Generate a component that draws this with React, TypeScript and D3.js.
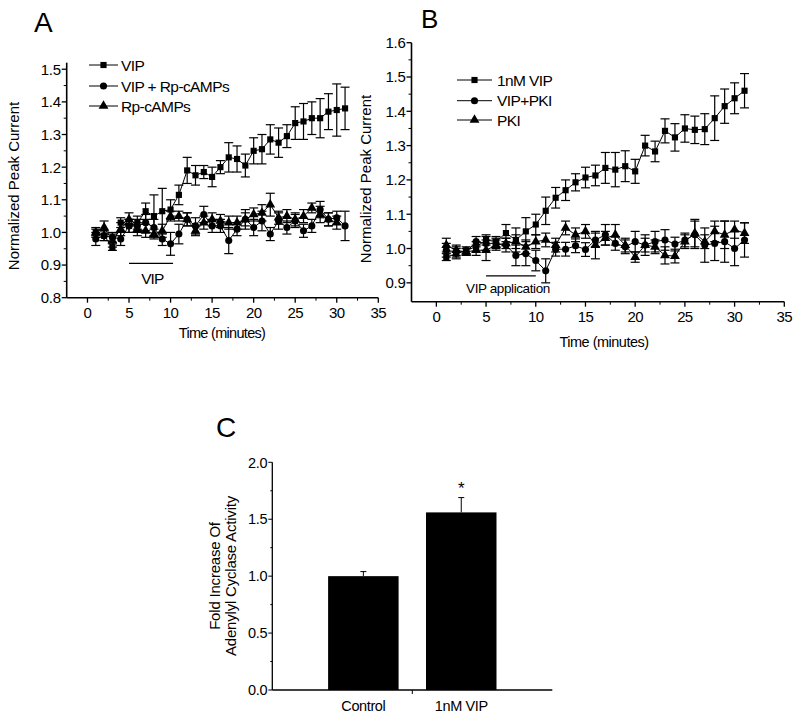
import React from "react";
import * as d3 from "d3";

// ---------- DATA ----------
const minutes = [1,2,3,4,5,6,7,8,9,10,11,12,13,14,15,16,17,18,19,20,21,22,23,24,25,26,27,28,29,30,31];

// Panel A
const vipA = [1.00,0.99,0.955,1.03,1.02,1.03,1.065,1.05,1.065,1.07,1.115,1.19,1.175,1.185,1.17,1.20,1.23,1.225,1.205,1.25,1.255,1.285,1.275,1.295,1.335,1.34,1.35,1.35,1.37,1.375,1.38];
const vipAErr = [0.015,0.015,0.01,0.015,0.02,0.02,0.025,0.065,0.07,0.03,0.03,0.04,0.03,0.02,0.03,0.02,0.045,0.04,0.035,0.04,0.045,0.045,0.045,0.035,0.05,0.055,0.05,0.06,0.055,0.08,0.065];
const vipRpA = [0.98,0.99,0.985,0.98,1.02,1.02,1.03,1.015,0.98,0.965,0.995,1.04,1.02,1.055,1.02,1.02,0.975,1.01,1.04,1.015,1.035,0.995,1.035,1.015,1.035,1.005,1.02,1.07,1.04,1.045,1.02];
const vipRpAErr = [0.02,0.015,0.015,0.02,0.02,0.02,0.025,0.025,0.02,0.035,0.03,0.02,0.025,0.025,0.02,0.02,0.04,0.02,0.03,0.025,0.03,0.02,0.025,0.02,0.02,0.02,0.02,0.025,0.02,0.02,0.045];
const rpA = [1.00,1.015,0.975,1.01,1.04,1.01,1.005,0.995,1.005,1.05,1.05,1.04,1.005,1.03,1.04,1.035,1.03,1.03,1.04,1.055,1.06,1.085,1.045,1.05,1.04,1.05,1.075,1.055,1.04,1.03];
const rpAErr = [0.01,0.02,0.02,0.02,0.02,0.02,0.02,0.015,0.02,0.015,0.015,0.02,0.015,0.02,0.02,0.02,0.02,0.02,0.02,0.02,0.025,0.035,0.02,0.02,0.02,0.02,0.015,0.025,0.02,0.02];
const legendA = ["VIP", "VIP + Rp-cAMPs", "Rp-cAMPs"];

// Panel B
const vipB = [0.975,0.985,0.995,1.005,1.025,1.02,1.045,1.025,1.05,1.07,1.11,1.148,1.17,1.193,1.207,1.213,1.235,1.23,1.24,1.225,1.30,1.283,1.343,1.324,1.35,1.346,1.348,1.38,1.415,1.438,1.46];
const vipBErr = [0.01,0.015,0.01,0.015,0.015,0.015,0.025,0.035,0.04,0.03,0.04,0.03,0.03,0.025,0.03,0.03,0.045,0.05,0.045,0.035,0.03,0.03,0.035,0.04,0.04,0.04,0.045,0.065,0.05,0.045,0.05];
const vipPkiB = [0.995,0.99,0.99,1.02,1.015,1.015,1.01,0.98,0.985,0.965,0.935,0.998,0.998,1.008,0.997,1.025,1.04,1.015,1.005,1.02,1.01,1.02,1.025,1.013,1.025,1.04,1.01,1.015,1.02,1.00,1.025];
const vipPkiBErr = [0.02,0.015,0.01,0.015,0.02,0.015,0.02,0.03,0.035,0.03,0.035,0.02,0.02,0.02,0.02,0.02,0.03,0.02,0.02,0.03,0.03,0.03,0.03,0.02,0.02,0.04,0.05,0.05,0.06,0.05,0.05];
const pkiB = [1.01,0.995,0.99,0.995,0.995,1.01,1.015,1.02,1.005,1.02,1.025,1.01,1.06,1.04,1.05,1.01,1.03,1.04,1.01,0.975,1.01,1.005,0.98,0.978,1.02,1.045,1.02,1.05,1.04,1.055,1.045];
const pkiBErr = [0.02,0.015,0.01,0.015,0.03,0.015,0.015,0.02,0.02,0.02,0.02,0.02,0.02,0.02,0.02,0.04,0.02,0.03,0.02,0.015,0.02,0.02,0.025,0.02,0.02,0.04,0.02,0.03,0.04,0.025,0.03];
const legendB = ["1nM VIP", "VIP+PKI", "PKI"];

// Panel C
const categoriesC = ["Control", "1nM VIP"];
const valuesC = [1.0, 1.56];
const errC = [0.04, 0.13];

// Ticks
const xTicks = [0,5,10,15,20,25,30,35];
const xMinor = [2.5,7.5,12.5,17.5,22.5,27.5,32.5];
const yTicksA = [0.8,0.9,1.0,1.1,1.2,1.3,1.4,1.5];
const yMinorA = [0.85,0.95,1.05,1.15,1.25,1.35,1.45];
const yTicksB = [0.9,1.0,1.1,1.2,1.3,1.4,1.5,1.6];
const yMinorB = [0.95,1.05,1.15,1.25,1.35,1.45,1.55];
const yTicksC = [0.0,0.5,1.0,1.5,2.0];
const yMinorC = [0.25,0.75,1.25,1.75];

// ---------- HELPERS ----------
const FONT = "'Liberation Sans', Arial, Helvetica, sans-serif";
const fmt1 = d3.format(".1f");

type Series = { vals: number[]; errs: number[]; shape: d3.SymbolType; size: number };

function XYPanel(props: {
  x: d3.ScaleLinear<number, number>;
  y: d3.ScaleLinear<number, number>;
  yTicks: number[];
  yMinor: number[];
  series: Series[];
  tickLabelDy: number;
}) {
  const { x, y, yTicks, yMinor, series, tickLabelDy } = props;
  const [x0, x1] = x.range();
  const [yb, yt] = y.range();
  const line = d3.line<number>().x((_, i) => x(minutes[i])).y((v) => y(v));
  return (
    <g>
      <line x1={x0} x2={x0} y1={yb} y2={yt} stroke="#000" strokeWidth={1.6} />
      <line x1={x0} x2={x1} y1={yb} y2={yb} stroke="#000" strokeWidth={1.6} />
      {yTicks.map((t) => (
        <g key={"yt" + t}>
          <line x1={x0 - 5} x2={x0} y1={y(t)} y2={y(t)} stroke="#000" strokeWidth={1.3} />
          <text x={x0 - 6} y={y(t)} dy="0.36em" textAnchor="end" fontSize={15} fontFamily={FONT} letterSpacing={-0.3}>{fmt1(t)}</text>
        </g>
      ))}
      {yMinor.map((t) => (
        <line key={"ym" + t} x1={x0 - 3} x2={x0} y1={y(t)} y2={y(t)} stroke="#000" strokeWidth={1} />
      ))}
      {xTicks.map((t) => (
        <g key={"xt" + t}>
          <line x1={x(t)} x2={x(t)} y1={yb} y2={yb + 5} stroke="#000" strokeWidth={1.3} />
          <text x={x(t)} y={yb + tickLabelDy} textAnchor="middle" fontSize={15} fontFamily={FONT} letterSpacing={-0.6}>{t}</text>
        </g>
      ))}
      {xMinor.map((t) => (
        <line key={"xm" + t} x1={x(t)} x2={x(t)} y1={yb} y2={yb + 3} stroke="#000" strokeWidth={1} />
      ))}
      {series.map((s, si) => (
        <g key={"s" + si}>
          <path d={line(s.vals) || ""} fill="none" stroke="#000" strokeWidth={1} />
          {s.vals.map((v, i) => {
            const cx = x(minutes[i]);
            const top = y(v + s.errs[i]);
            const bot = y(v - s.errs[i]);
            return (
              <g key={i}>
                <line x1={cx} x2={cx} y1={top} y2={bot} stroke="#000" strokeWidth={1.2} />
                <line x1={cx - 4.5} x2={cx + 4.5} y1={top} y2={top} stroke="#000" strokeWidth={1.2} />
                <line x1={cx - 4.5} x2={cx + 4.5} y1={bot} y2={bot} stroke="#000" strokeWidth={1.2} />
                <path transform={`translate(${cx},${y(v)})`} d={d3.symbol().type(s.shape).size(s.size)() || ""} fill="#000" />
              </g>
            );
          })}
        </g>
      ))}
    </g>
  );
}

function Legend(props: { labels: string[]; shapes: d3.SymbolType[]; sizes: number[]; lx0: number; lx1: number; tx: number; ys: number[] }) {
  const { labels, shapes, sizes, lx0, lx1, tx, ys } = props;
  return (
    <g>
      {labels.map((lab, i) => (
        <g key={lab}>
          <line x1={lx0} x2={lx1} y1={ys[i]} y2={ys[i]} stroke="#000" strokeWidth={1} />
          <path transform={`translate(${(lx0 + lx1) / 2},${ys[i]})`} d={d3.symbol().type(shapes[i]).size(sizes[i])() || ""} fill="#000" />
          <text x={tx} y={ys[i]} dy="0.36em" fontSize={15.5} fontFamily={FONT} letterSpacing={-0.6}>{lab}</text>
        </g>
      ))}
    </g>
  );
}

export default function App() {
  const shapes = [d3.symbolSquare, d3.symbolCircle, d3.symbolTriangle];
  const sizes = [38, 40, 42];

  const xA = d3.scaleLinear().domain([-2.5, 35]).range([66.7, 378.3]);
  const yA = d3.scaleLinear().domain([0.8, 1.52]).range([297.7, 62.7]);
  const xB = d3.scaleLinear().domain([-2.5, 35]).range([411.5, 784.3]);
  const yB = d3.scaleLinear().domain([0.845, 1.6]).range([301.7, 42.7]);
  const xC = d3.scaleBand<string>().domain(categoriesC).range([272.3, 552.3]).paddingInner(0.28).paddingOuter(0.57);
  const yC = d3.scaleLinear().domain([0, 2]).range([690, 462.3]);

  const seriesA: Series[] = [
    { vals: vipA, errs: vipAErr, shape: shapes[0], size: sizes[0] },
    { vals: vipRpA, errs: vipRpAErr, shape: shapes[1], size: sizes[1] },
    { vals: rpA, errs: rpAErr, shape: shapes[2], size: sizes[2] },
  ];
  const seriesB: Series[] = [
    { vals: vipB, errs: vipBErr, shape: shapes[0], size: sizes[0] },
    { vals: vipPkiB, errs: vipPkiBErr, shape: shapes[1], size: sizes[1] },
    { vals: pkiB, errs: pkiBErr, shape: shapes[2], size: sizes[2] },
  ];

  const cX0 = 272.3, cX1 = 552.3;
  const cYb = yC(0);

  return (
    <svg width={798} height={718} style={{ position: "absolute", left: 0, top: 0, background: "#fff" }}>
      <rect x={0} y={0} width={798} height={718} fill="#fff" />

      <text x={34} y={32} fontSize={28} fontFamily={FONT} fontWeight={300}>A</text>
      <text x={421} y={28} fontSize={26} fontFamily={FONT} fontWeight={300}>B</text>
      <text x={216} y={437} fontSize={28} fontFamily={FONT} fontWeight={300}>C</text>

      {/* Panel A */}
      <XYPanel x={xA} y={yA} yTicks={yTicksA} yMinor={yMinorA} series={seriesA} tickLabelDy={20} />
      <Legend labels={legendA} shapes={shapes} sizes={sizes} lx0={89} lx1={118} tx={121} ys={[65, 86, 106]} />
      <line x1={xA(5)} x2={xA(10.3)} y1={yA(0.905)} y2={yA(0.905)} stroke="#000" strokeWidth={1.2} />
      <text x={xA(7.8)} y={284} textAnchor="middle" fontSize={15.5} fontFamily={FONT} letterSpacing={-0.9}>VIP</text>
      <text transform="translate(19,186) rotate(-90)" textAnchor="middle" fontSize={15} fontFamily={FONT}>Normalized Peak Current</text>
      <text x={222} y={338} textAnchor="middle" fontSize={14.5} fontFamily={FONT} letterSpacing={-0.7}>Time (minutes)</text>

      {/* Panel B */}
      <XYPanel x={xB} y={yB} yTicks={yTicksB} yMinor={yMinorB} series={seriesB} tickLabelDy={20} />
      <Legend labels={legendB} shapes={shapes} sizes={sizes} lx0={457} lx1={492} tx={497} ys={[80, 100.7, 120]} />
      <line x1={xB(5)} x2={xB(10)} y1={yB(0.92)} y2={yB(0.92)} stroke="#000" strokeWidth={1.2} />
      <text x={508} y={293} textAnchor="middle" fontSize={13.5} fontFamily={FONT} letterSpacing={-0.4}>VIP application</text>
      <text transform="translate(371,179) rotate(-90)" textAnchor="middle" fontSize={15} fontFamily={FONT}>Normalized Peak Current</text>
      <text x={604} y={347} textAnchor="middle" fontSize={14.5} fontFamily={FONT} letterSpacing={-0.5}>Time (minutes)</text>

      {/* Panel C */}
      <g>
        <line x1={cX0} x2={cX0} y1={cYb} y2={yC(2)} stroke="#000" strokeWidth={1.3} />
        <line x1={cX0} x2={cX1} y1={cYb} y2={cYb} stroke="#000" strokeWidth={1.3} />
        <line x1={(cX0 + cX1) / 2} x2={(cX0 + cX1) / 2} y1={cYb} y2={cYb + 4} stroke="#000" strokeWidth={1} />
        {yTicksC.map((t) => (
          <g key={"c" + t}>
            <line x1={cX0 - 4} x2={cX0} y1={yC(t)} y2={yC(t)} stroke="#000" strokeWidth={1} />
            <text x={cX0 - 5} y={yC(t)} dy="0.36em" textAnchor="end" fontSize={14.5} fontFamily={FONT} letterSpacing={-0.3}>{fmt1(t)}</text>
          </g>
        ))}
        {yMinorC.map((t) => (
          <line key={"cm" + t} x1={cX0 - 2} x2={cX0} y1={yC(t)} y2={yC(t)} stroke="#000" strokeWidth={1} />
        ))}
        {categoriesC.map((c, i) => {
          const bx = xC(c) || 0;
          const bw = xC.bandwidth();
          const cx = bx + bw / 2;
          return (
            <g key={c}>
              <rect x={bx} y={yC(valuesC[i])} width={bw} height={cYb - yC(valuesC[i])} fill="#000" />
              <line x1={cx} x2={cx} y1={yC(valuesC[i])} y2={yC(valuesC[i] + errC[i])} stroke="#000" strokeWidth={1} />
              <line x1={cx - 3} x2={cx + 3} y1={yC(valuesC[i] + errC[i])} y2={yC(valuesC[i] + errC[i])} stroke="#000" strokeWidth={1} />
              <text x={cx} y={711} textAnchor="middle" fontSize={14.5} fontFamily={FONT} letterSpacing={-0.4}>{c}</text>
            </g>
          );
        })}
        <text x={(xC("1nM VIP") || 0) + xC.bandwidth() / 2} y={yC(valuesC[1] + errC[1]) - 4} textAnchor="middle" fontSize={17} fontFamily={FONT}>*</text>
        <text transform="translate(215,576) rotate(-90)" textAnchor="middle" dy="0.36em" fontSize={15} fontFamily={FONT} letterSpacing={-0.2}>Fold Increase Of</text>
        <text transform="translate(231,576) rotate(-90)" textAnchor="middle" dy="0.36em" fontSize={15} fontFamily={FONT} letterSpacing={-0.2}>Adenylyl Cyclase Activity</text>
      </g>
    </svg>
  );
}
